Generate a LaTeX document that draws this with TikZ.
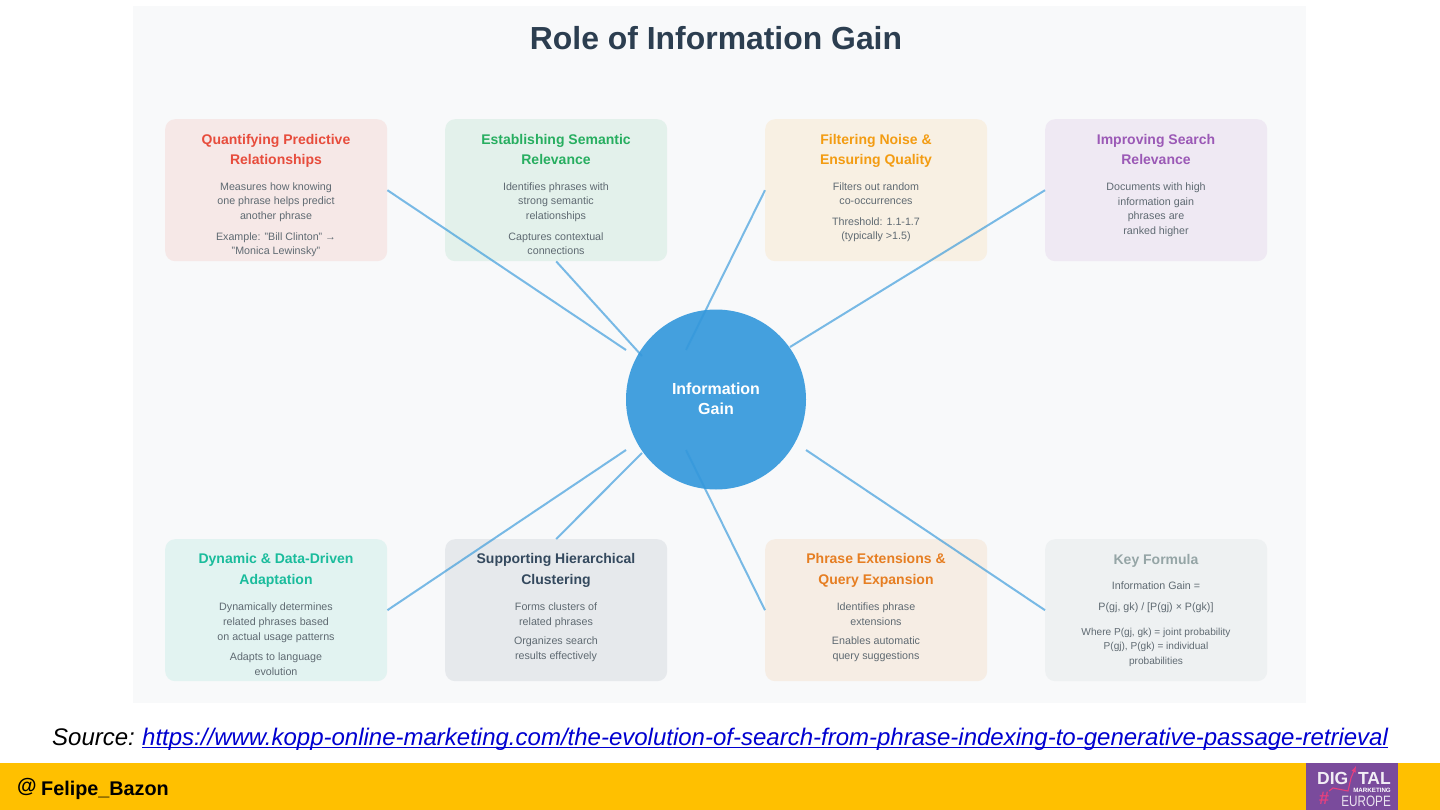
\documentclass[tikz,border=0pt]{standalone}
\usepackage{fontspec}
\setmainfont{Liberation Sans}
\definecolor{bgp}{HTML}{F8F9FA}
\definecolor{cred}{HTML}{E74C3C}
\definecolor{cgrn}{HTML}{27AE60}
\definecolor{corg}{HTML}{F39C12}
\definecolor{cpur}{HTML}{9B59B6}
\definecolor{ctea}{HTML}{1ABC9C}
\definecolor{cnav}{HTML}{34495E}
\definecolor{cdor}{HTML}{E67E22}
\definecolor{cgry}{HTML}{95A5A6}
\definecolor{cblu}{HTML}{3498DB}
\definecolor{cttl}{HTML}{2C3E50}
\definecolor{cbody}{HTML}{5F6A72}
\definecolor{cbar}{HTML}{FFC000}
\definecolor{clogo}{HTML}{7A4B9C}
\definecolor{cpink}{HTML}{E5407F}
\definecolor{clink}{HTML}{0000D0}
\tikzset{
 x=1pt,y=-1pt,
 card/.style={rounded corners=10pt,minimum width=222pt,minimum height=142pt,inner sep=0pt,draw=none,anchor=north west},
 ttl/.style={font=\fontsize{14}{20.6}\selectfont\bfseries,align=center,anchor=base,inner sep=0pt},
 bod/.style={font=\fontsize{10.7}{14.7}\selectfont,text=cbody,align=center,anchor=base,inner sep=0pt},
 bodsm/.style={bod,font=\fontsize{10.1}{14.7}\selectfont},
 link/.style={cblu,opacity=.65,line width=2pt},
}
\begin{document}
\begin{tikzpicture}
\useasboundingbox (0,0) rectangle (1440,810);
\fill[white] (0,0) rectangle (1440,810);
\fill[bgp] (133,6) rectangle (1306,703);
\node[font=\fontsize{31.9}{36}\selectfont\bfseries,text=cttl,anchor=base,inner sep=0pt] (title) at (716,50) {Role of Information Gain};
% cards
\node[card,fill=cred!10!bgp] (c1) at (165,119) {};
\node[card,fill=cgrn!10!bgp] (c2) at (445,119) {};
\node[card,fill=corg!10!bgp] (c3) at (765,119) {};
\node[card,fill=cpur!10!bgp] (c4) at (1045,119) {};
\node[card,fill=ctea!10!bgp] (c5) at (165,539) {};
\node[card,fill=cnav!9!bgp] (c6) at (445,539) {};
\node[card,fill=cdor!10!bgp] (c7) at (765,539) {};
\node[card,fill=cgry!10!bgp] (c8) at (1045,539) {};
% hub
\node[circle,fill=cblu!92!white,minimum size=180pt,inner sep=0pt] (hub) at (716,399.5) {};
\node[text=white,align=center,font=\fontsize{16}{20}\selectfont\bfseries,inner sep=0pt] (hubt) at (716,398.5) {Information\\Gain};
% free ends
\coordinate (e1) at (626,350);
\coordinate (e2) at (642,356);
\coordinate (e3) at (686,350);
\coordinate (e4) at (790,347);
\coordinate (e5) at (626,450);
\coordinate (e6) at (642,453);
\coordinate (e7) at (686,450);
\coordinate (e8) at (806,450);
\draw[link] (c1.east) -- (e1);
\draw[link] (c2.south) -- (e2);
\draw[link] (c3.west) -- (e3);
\draw[link] (c4.west) -- (e4);
\draw[link] (c5.east) -- (e5);
\draw[link] (c6.north) -- (e6);
\draw[link] (c7.west) -- (e7);
\draw[link] (c8.west) -- (e8);
% card 1
\node[ttl,text=cred] (t1) at (276,165) {Quantifying Predictive\\Relationships};
\node[bod] (b1a) at (276,219.5) {Measures how knowing\\one phrase helps predict\\another phrase};
\node[bod] (b1b) at (276,255) {Example: "Bill Clinton" →\\"Monica Lewinsky"};
% card 2
\node[ttl,text=cgrn] (t2) at (556,165) {Establishing Semantic\\Relevance};
\node[bod] (b2a) at (556,219.5) {Identifies phrases with\\strong semantic\\relationships};
\node[bod] (b2b) at (556,255) {Captures contextual\\connections};
% card 3
\node[ttl,text=corg] (t3) at (876,165) {Filtering Noise \&\\Ensuring Quality};
\node[bod] (b3a) at (876,205) {Filters out random\\co-occurrences};
\node[bod] (b3b) at (876,240) {Threshold: 1.1-1.7\\(typically >1.5)};
% card 4
\node[ttl,text=cpur] (t4) at (1156,165) {Improving Search\\Relevance};
\node[bod] (b4a) at (1156,234.5) {Documents with high\\information gain\\phrases are\\ranked higher};
% card 5
\node[ttl,text=ctea] (t5) at (276,584) {Dynamic \& Data-Driven\\Adaptation};
\node[bod] (b5a) at (276,640) {Dynamically determines\\related phrases based\\on actual usage patterns};
\node[bod] (b5b) at (276,675) {Adapts to language\\evolution};
% card 6
\node[ttl,text=cnav] (t6) at (556,584) {Supporting Hierarchical\\Clustering};
\node[bod] (b6a) at (556,625) {Forms clusters of\\related phrases};
\node[bod] (b6b) at (556,659.5) {Organizes search\\results effectively};
% card 7
\node[ttl,text=cdor] (t7) at (876,584) {Phrase Extensions \&\\Query Expansion};
\node[bod] (b7a) at (876,625) {Identifies phrase\\extensions};
\node[bod] (b7b) at (876,659.5) {Enables automatic\\query suggestions};
% card 8
\node[ttl,text=cgry] (t8) at (1156,564.5) {Key Formula};
\node[bod] (b8a) at (1156,589.5) {Information Gain =};
\node[bod] (b8b) at (1156,610) {P(gj, gk) / [P(gj) × P(gk)]};
\node[bodsm] (b8c) at (1156,664.5) {Where P(gj, gk) = joint probability\\P(gj), P(gk) = individual\\probabilities};
% source line
\node[font=\fontsize{24}{28}\selectfont\itshape,anchor=base west,inner sep=0pt] (src) at (52,745) {Source:};
\node[font=\fontsize{24}{28}\selectfont\itshape,text=clink,anchor=base west,inner sep=0pt] (url) at (142,745) {https://www.kopp-online-marketing.com/the-evolution-of-search-from-phrase-indexing-to-generative-passage-retrieval};
\draw[clink,line width=1.4pt] ([yshift=-2.4pt]url.base west) -- ([yshift=-2.4pt]url.base east);
% footer
\fill[cbar] (0,763) rectangle (1440,810);
\node[font=\fontsize{20}{24}\selectfont\bfseries,anchor=base west,inner sep=0pt] (at) at (17,792) {@};
\node[font=\fontsize{19.8}{24}\selectfont\bfseries,anchor=base west,inner sep=0pt] (who) at (41,795) {Felipe\_Bazon};
% logo
\fill[clogo] (1306,763) rectangle (1398,810);
\draw[cpink,line width=1.1pt,-latex] (1329,791) -- (1333,788) -- (1348,791) -- (1351,778) -- (1356,766);
\node[font=\fontsize{17.5}{20}\selectfont\bfseries,text=white!90!clogo,anchor=base west,inner sep=0pt] (dig) at (1317,784) {DIG};
\node[font=\fontsize{17.5}{20}\selectfont\bfseries,text=white!90!clogo,anchor=base east,inner sep=0pt] (tal) at (1391,784) {TAL};
\node[font=\fontsize{6.2}{7}\selectfont\bfseries,text=white,anchor=base east,inner sep=0pt] (mk) at (1391,792.5) {MARKETING};
\node[font=\fontsize{15}{16}\selectfont,text=white!85!clogo,anchor=base east,inner sep=0pt] (eu) at (1391,806) {\scalebox{.78}[1]{EUROPE}};
\node[font=\fontsize{18}{20}\selectfont\bfseries,text=cpink,anchor=base west,inner sep=0pt] (hash) at (1319,804) {\#};
\end{tikzpicture}
\end{document}
